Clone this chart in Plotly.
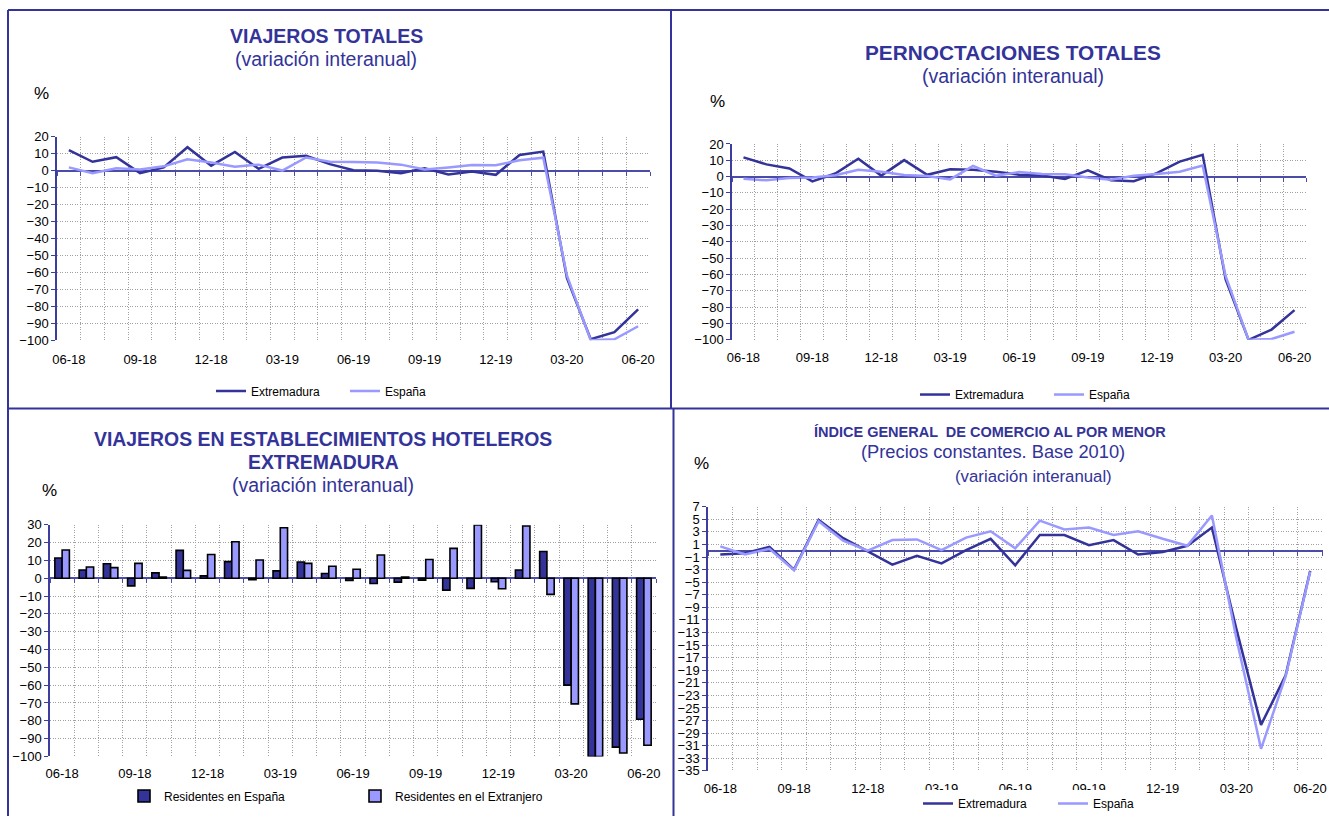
import plotly.graph_objects as go

# ---------------- data ----------------
months = ["06-18", "07-18", "08-18", "09-18", "10-18", "11-18", "12-18", "01-19", "02-19",
          "03-19", "04-19", "05-19", "06-19", "07-19", "08-19", "09-19", "10-19", "11-19",
          "12-19", "01-20", "02-20", "03-20", "04-20", "05-20", "06-20"]
tick_labels = ["06-18", "09-18", "12-18", "03-19", "06-19", "09-19", "12-19", "03-20", "06-20"]

viajeros_ext = [12.1, 5.2, 7.9, -1.5, 1.9, 13.8, 2.9, 11.0, 1.0, 7.7, 8.7, 3.8, 0.2, -0.1, -1.5,
                1.3, -2.3, -0.6, -2.5, 9.2, 11.2, -63.5, -99.5, -95.3, -81.8]
viajeros_esp = [1.9, -1.5, 1.3, 0.6, 2.5, 6.7, 4.8, 2.3, 3.5, 0.0, 7.7, 5.2, 5.0, 4.8, 3.5,
                0.6, 1.8, 3.3, 3.2, 6.1, 7.6, -62.0, -100.0, -99.5, -91.8]

pern_ext = [11.8, 7.5, 5.0, -2.9, 1.9, 10.9, 0.6, 10.1, 1.1, 4.5, 4.2, 3.0, 1.2, 0.6, -1.4,
            3.8, -2.2, -2.8, 2.1, 9.2, 13.4, -63.0, -100.0, -93.7, -81.8]
pern_esp = [-1.3, -2.3, -0.9, -0.5, 0.8, 4.2, 2.9, 1.0, 0.3, -1.7, 6.5, 0.6, 2.8, 1.6, 1.5,
            -0.5, -1.9, 0.5, 1.6, 3.0, 6.8, -61.0, -100.0, -99.5, -95.0]

res_espana = [11.3, 4.6, 8.1, -4.3, 3.0, 15.6, 1.3, 9.3, -0.9, 4.1, 9.1, 2.6, -1.2, -3.0, -2.2,
              -1.1, -6.7, -5.7, -2.0, 4.6, 15.0, -60.0, -100.0, -94.8, -79.1]
res_extranjero = [15.8, 6.3, 5.9, 8.3, 0.7, 4.4, 13.3, 20.4, 10.2, 28.3, 8.3, 6.7, 5.0, 13.0, 0.7,
                  10.5, 16.7, 29.8, -5.9, 29.3, -9.1, -70.5, -100.0, -98.1, -93.7]

com_ext = [-0.6, -0.4, 0.6, -3.0, 4.9, 2.0, -0.1, -2.2, -0.8, -2.0, 0.1, 1.9, -2.3, 2.5, 2.5,
           0.9, 1.7, -0.6, -0.2, 0.8, 3.7, -12.5, -27.7, -19.8, -3.2]
com_esp = [0.7, -0.6, 0.3, -3.1, 4.7, 1.6, 0.0, 1.7, 1.8, 0.1, 2.1, 3.1, 0.4, 4.8, 3.4,
           3.7, 2.5, 3.1, 1.9, 0.8, 5.6, -14.0, -31.5, -20.0, -3.3]

# ---------------- style ----------------
W, H = 1329, 818
NAVY = "#333399"
LIGHT = "#9999FF"
AXIS = "#3D3DA0"
ZERO = "#4B4BA8"
GRID = "#A0A0A0"
GRIDDASH = "1px,1.5px"
FONT = "Liberation Sans, Arial, sans-serif"


def px(x):
    return x / W


def py(y):
    return 1 - y / H


# plot areas in pixels: left, right, top, bottom
panels = [
    dict(x0=57, x1=650, y0=137, y1=341, ymin=-100, ymax=20, dtick=10, standoff=10),
    dict(x0=732, x1=1306, y0=144.3, y1=340.7, ymin=-100, ymax=20, dtick=10, standoff=8),
    dict(x0=50, x1=656, y0=526, y1=758.3, ymin=-100, ymax=30, dtick=10, standoff=8),
    dict(x0=708, x1=1322.5, y0=508, y1=772.7, ymin=-35, ymax=7, dtick=2, standoff=8),
]

fig = go.Figure()

line_w = 2.5
# Panel 1
fig.add_trace(go.Scatter(x=months, y=viajeros_ext, name="Extremadura", mode="lines",
                         line=dict(color=NAVY, width=line_w), xaxis="x", yaxis="y", legend="legend"))
fig.add_trace(go.Scatter(x=months, y=viajeros_esp, name="España", mode="lines",
                         line=dict(color=LIGHT, width=line_w), xaxis="x", yaxis="y", legend="legend"))
# Panel 2
fig.add_trace(go.Scatter(x=months, y=pern_ext, name="Extremadura", mode="lines",
                         line=dict(color=NAVY, width=line_w), xaxis="x2", yaxis="y2", legend="legend2"))
fig.add_trace(go.Scatter(x=months, y=pern_esp, name="España", mode="lines",
                         line=dict(color=LIGHT, width=line_w), xaxis="x2", yaxis="y2", legend="legend2"))
# Panel 3
fig.add_trace(go.Bar(x=months, y=res_espana, name="Residentes en España",
                     marker=dict(color=NAVY, line=dict(color="black", width=1.6)),
                     xaxis="x3", yaxis="y3", legend="legend3"))
fig.add_trace(go.Bar(x=months, y=res_extranjero, name="Residentes en el Extranjero",
                     marker=dict(color=LIGHT, line=dict(color="black", width=1.6)),
                     xaxis="x3", yaxis="y3", legend="legend3"))
# Panel 4
fig.add_trace(go.Scatter(x=months, y=com_ext, name="Extremadura", mode="lines",
                         line=dict(color=NAVY, width=line_w), xaxis="x4", yaxis="y4", legend="legend4"))
fig.add_trace(go.Scatter(x=months, y=com_esp, name="España", mode="lines",
                         line=dict(color=LIGHT, width=line_w), xaxis="x4", yaxis="y4", legend="legend4"))

# empty helper traces so that the zero-line tick axes get drawn
for k in range(1, 5):
    sy = "y" if k == 1 else "y%d" % k
    fig.add_trace(go.Scatter(x=[], y=[], xaxis="x%d" % (k + 4), yaxis=sy, showlegend=False,
                             hoverinfo="skip"))

layout = dict(
    width=W, height=H, margin=dict(l=0, r=0, t=0, b=0),
    paper_bgcolor="white", plot_bgcolor="white",
    font=dict(family=FONT, color="black", size=13),
    barmode="group", bargap=0.4, bargroupgap=0.0,
)

ticktext = [m if m in tick_labels else "" for m in months]

for k, p in enumerate(panels, start=1):
    sx = "" if k == 1 else str(k)
    layout["xaxis" + sx] = dict(
        domain=[px(p["x0"]), px(p["x1"])], anchor="y" + sx, type="category",
        categoryorder="array", categoryarray=months,
        range=[-0.5, len(months) - 0.5], tickmode="array", tickvals=months, ticktext=ticktext,
        tickangle=0, tickson="boundaries", ticks="", showgrid=True, gridcolor=GRID,
        griddash=GRIDDASH, gridwidth=1, showline=False, zeroline=False,
        ticklabelstandoff=p["standoff"],
        tickfont=dict(size=13, color="black"), automargin=False, fixedrange=True,
    )
    layout["yaxis" + sx] = dict(
        domain=[py(p["y1"]), py(p["y0"])], anchor="x" + sx,
        range=[p["ymin"], p["ymax"]], tickmode="linear", tick0=p["ymin"], dtick=p["dtick"],
        showline=True, linecolor=AXIS, linewidth=1.5, ticks="outside", ticklen=4,
        tickcolor=AXIS, tickwidth=1, showgrid=True, gridcolor=GRID, griddash=GRIDDASH, gridwidth=1,
        zeroline=True, zerolinecolor=ZERO, zerolinewidth=1.5,
        tickfont=dict(size=13, color="black"), automargin=False, fixedrange=True,
    )
    # tick marks along the zero line (category boundaries)
    frac = (0 - p["ymin"]) / (p["ymax"] - p["ymin"])
    zero_pos = py(p["y1"]) + frac * (py(p["y0"]) - py(p["y1"]))
    layout["xaxis" + str(k + 4)] = dict(
        overlaying="x" + sx, anchor="free", position=zero_pos, type="linear",
        range=[-0.5, len(months) - 0.5], tickmode="linear", tick0=-0.5, dtick=1,
        ticks="outside", ticklen=4, tickcolor=ZERO, tickwidth=1.2,
        showticklabels=False, showgrid=False, zeroline=False, showline=False,
        automargin=False, fixedrange=True,
    )

leg_common = dict(orientation="h", xanchor="left", yanchor="middle",
                  font=dict(size=12, color="black", family=FONT),
                  bgcolor="rgba(0,0,0,0)", borderwidth=0, entrywidthmode="pixels")
layout["legend"] = dict(leg_common, x=px(211), y=py(392), entrywidth=89)
layout["legend2"] = dict(leg_common, x=px(915), y=py(395.5), entrywidth=89)
layout["legend3"] = dict(leg_common, x=px(124), y=py(798), entrywidth=186)
layout["legend4"] = dict(leg_common, x=px(918), y=py(805.5), entrywidth=90)


def ann(text, x, y, size, bold=False, color=NAVY):
    t = "<b>%s</b>" % text if bold else text
    return dict(text=t, x=px(x), y=py(y), xref="paper", yref="paper", showarrow=False,
                xanchor="center", yanchor="middle", font=dict(family=FONT, size=size, color=color))


annotations = [
    ann("VIAJEROS TOTALES", 326, 36, 19.5, bold=True),
    ann("(variación interanual)", 326, 58.7, 19.5),
    ann("%", 41.5, 93.3, 17, color="black"),
    ann("PERNOCTACIONES TOTALES", 1013, 52.7, 20.8, bold=True),
    ann("(variación interanual)", 1013, 76, 19.5),
    ann("%", 717.5, 101.7, 17, color="black"),
    ann("VIAJEROS EN ESTABLECIMIENTOS HOTELEROS", 323, 440, 19.4, bold=True),
    ann("EXTREMADURA", 323, 463, 19.4, bold=True),
    ann("(variación interanual)", 323, 486, 19.5),
    ann("%", 49, 491.7, 17, color="black"),
    ann("ÍNDICE GENERAL  DE COMERCIO AL POR MENOR", 990, 432.7, 14.5, bold=True),
    ann("(Precios constantes. Base 2010)", 993, 452.7, 18.3),
    ann("(variación interanual)", 1033, 478, 16.8),
    ann("%", 701.5, 465, 17, color="black"),
]
layout["annotations"] = annotations


def seg(x0, y0, x1, y1):
    return dict(type="line", xref="paper", yref="paper", x0=px(x0), y0=py(y0), x1=px(x1), y1=py(y1),
                line=dict(color=NAVY, width=2), layer="above")


layout["shapes"] = [
    # white legend backing box of the retail panel (hides part of the axis labels, as in the original)
    dict(type="rect", xref="paper", yref="paper", x0=px(903), x1=px(1143), y0=py(818), y1=py(792),
         fillcolor="white", line=dict(width=0), layer="above"),
    seg(8, 10, 1329, 10),
    seg(8, 409.5, 1329, 409.5),
    seg(8, 10, 8, 818),
    seg(671, 10, 671, 409.5),
    seg(673.5, 409.5, 673.5, 818),
]

fig.update_layout(**layout)
fig.write_html("out.html", config={"displayModeBar": False},
               post_script="document.body.style.margin='0';document.body.style.overflow='hidden';"
                           "document.documentElement.style.overflow='hidden';")
